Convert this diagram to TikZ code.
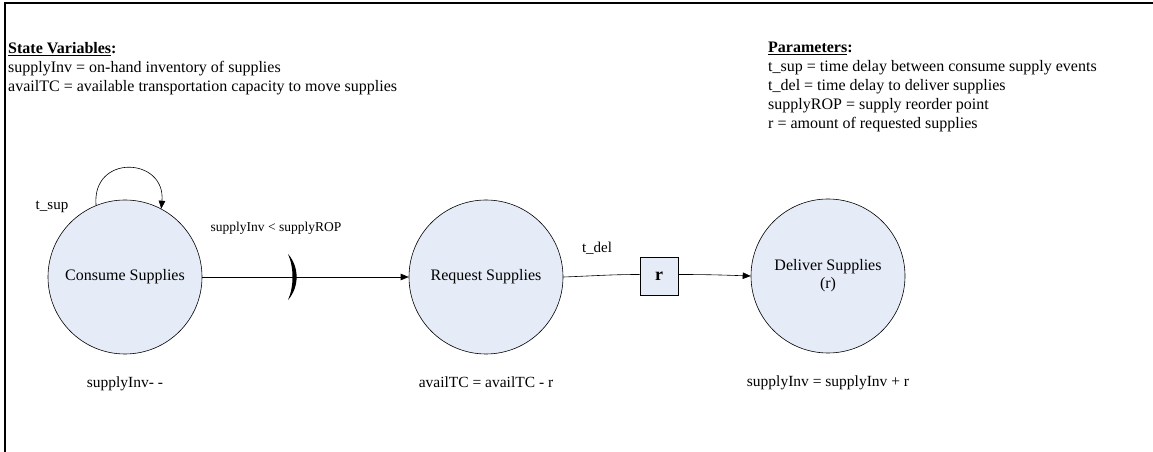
\documentclass[tikz,border=0pt]{standalone}
\usepackage{fontspec}
\setmainfont{Liberation Serif}
\usepackage{xcolor}
\definecolor{statec}{HTML}{E6ECF7}
\definecolor{linec}{HTML}{000000}
\usepackage{tikz}
\usetikzlibrary{arrows.meta,positioning,calc}
\tikzset{
  >={Triangle[length=8pt,width=6.5pt]},
  state/.style={circle,draw=linec,line width=0.6pt,fill=statec,minimum size=154pt,inner sep=0pt,align=center,font=\fontsize{16}{18}\selectfont},
  dbox/.style={draw=linec,line width=0.6pt,fill=statec,minimum size=38pt,inner sep=0pt,font=\fontsize{18}{20}\selectfont\bfseries},
  ptr/.style={->,line width=0.6pt,draw=linec},
  note/.style={font=\fontsize{16}{19}\selectfont,align=left,inner sep=0pt},
  elab/.style={font=\fontsize{15}{17}\selectfont,inner sep=1pt},
  act/.style={font=\fontsize{15.5}{17}\selectfont,inner sep=1pt},
  frame/.style={line width=2pt,draw=linec},
}

\begin{document}
\begin{tikzpicture}[x=1pt,y=1pt]
  \useasboundingbox (0,0) rectangle (1153,452);
  % frame
  \draw[frame] (5,0) -- (5,449) -- (1153,449);
  % legends
  \node[note,anchor=north west] (vars) at (8,410) {\underline{\textbf{State Variables}}\textbf{:}\\
    supplyInv = on-hand inventory of supplies\\
    availTC = available transportation capacity to move supplies};
  \node[note,anchor=north west] (pars) at (768,410) {\underline{\textbf{Parameters}}\textbf{:}\\
    t\_sup = time delay between consume supply events\\
    t\_del = time delay to deliver supplies\\
    supplyROP = supply reorder point\\
    r = amount of requested supplies};
  % events
  \node[state] (cons) at (125,175) {Consume Supplies};
  \node[state] (req) at (486,175) {Request Supplies};
  \node[state] (deliv) at (828,176) {Deliver Supplies\\(r)};
  \node[dbox] (rbox) at (659,176) {r};
  % state changes
  \node[act,below=21pt of cons] (consact) {supplyInv- -};
  \node[act,below=21pt of req] (reqact) {availTC = availTC - r};
  \node[act,below=21pt of deliv] (delivact) {supplyInv = supplyInv + r};
  % edges
  \draw[ptr] (cons.112) .. controls +(95:52) and +(85:52) .. (cons.62);
  \node[elab] (tsup) at (52,245) {t\_sup};
  \draw[ptr] (cons.east) -- (req.west);
  \node[elab,font=\fontsize{13.5}{16}\selectfont] (cond) at (276,224) {supplyInv < supplyROP};
  \coordinate (cut) at (290,175);
  \fill ($(cut)+(-2,23)$) .. controls ($(cut)+(9.5,10)$) and ($(cut)+(9.5,-10)$) .. ($(cut)+(-2,-23)$)
        .. controls ($(cut)+(4,-10)$) and ($(cut)+(4,10)$) .. cycle;
  \draw[line width=0.6pt] (req.east) to[out=2,in=180] ([yshift=1.5pt]rbox.west);
  \draw[ptr] ([yshift=1.5pt]rbox.east) to[out=0,in=178] (deliv.west);
  \node[elab] (tdel) at (597,204) {t\_del};
\end{tikzpicture}
\end{document}
